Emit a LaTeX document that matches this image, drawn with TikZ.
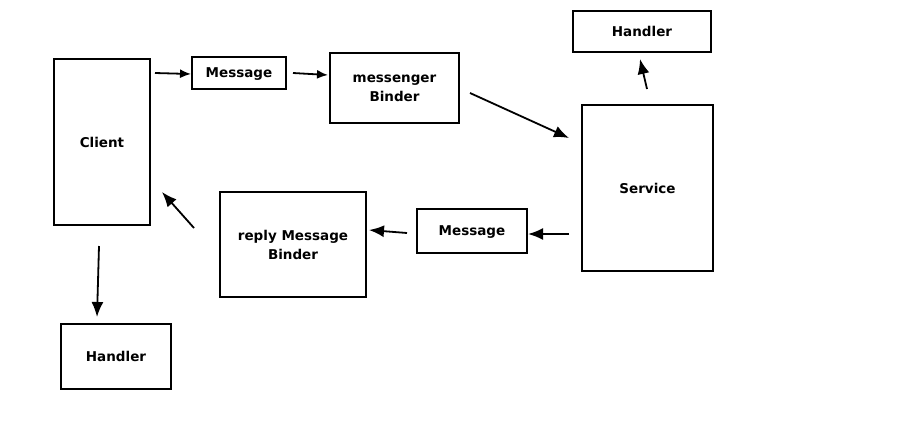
\documentclass[tikz,border=0pt]{standalone}
\usepackage{fontspec}
\setmainfont{DejaVu Sans}
\usetikzlibrary{arrows.meta}
\begin{document}
\begin{tikzpicture}[x=1pt,y=-1pt,
  box/.style={draw,line width=1.8pt,inner sep=0pt,align=center,text depth=0pt,font=\bfseries\fontsize{13.5}{19}\selectfont},
  flow/.style={line width=1.8pt,-{Latex[length=15pt,width=12pt]}},
  flowsmall/.style={line width=1.8pt,-{Latex[length=11pt,width=9pt]}}]
\useasboundingbox (0,0) rectangle (912,440);
\node[box,minimum width=96pt,minimum height=166pt] (client) at (102,142) {Client};
\node[box,minimum width=94pt,minimum height=32pt] (msg1) at (239,73) {Message};
\node[box,minimum width=129pt,minimum height=70pt] (binder) at (394.5,88) {messenger\\Binder};
\node[box,minimum width=138pt,minimum height=41pt] (hservice) at (642,31.5) {Handler};
\node[box,minimum width=131pt,minimum height=166pt] (service) at (647.5,188) {Service};
\node[box,minimum width=110pt,minimum height=44pt] (msg2) at (472,231) {Message};
\node[box,minimum width=146pt,minimum height=105pt] (reply) at (293,244.5) {reply Message\\Binder};
\node[box,minimum width=110pt,minimum height=65pt] (hclient) at (116,356.5) {Handler};
% free arrow ends
\coordinate (a1s) at (155,73);   \coordinate (a1e) at (191,74);
\coordinate (a2s) at (293,73);   \coordinate (a2e) at (328,75);
\coordinate (a3s) at (470,93);   \coordinate (a3e) at (569,138);
\coordinate (a4s) at (647,89);   \coordinate (a4e) at (640,59);
\coordinate (a5s) at (569,234);  \coordinate (a5e) at (528,234);
\coordinate (a6s) at (407,233);  \coordinate (a6e) at (369,230);
\coordinate (a7s) at (194,228);  \coordinate (a7e) at (162,192);
\coordinate (a8s) at (99,246);   \coordinate (a8e) at (97,317);
\draw[flowsmall] (a1s) -- (a1e);
\draw[flowsmall] (a2s) -- (a2e);
\draw[flow] (a3s) -- (a3e);
\draw[flow] (a4s) -- (a4e);
\draw[flow] (a5s) -- (a5e);
\draw[flow] (a6s) -- (a6e);
\draw[flow] (a7s) -- (a7e);
\draw[flow] (a8s) -- (a8e);
\end{tikzpicture}
\end{document}
